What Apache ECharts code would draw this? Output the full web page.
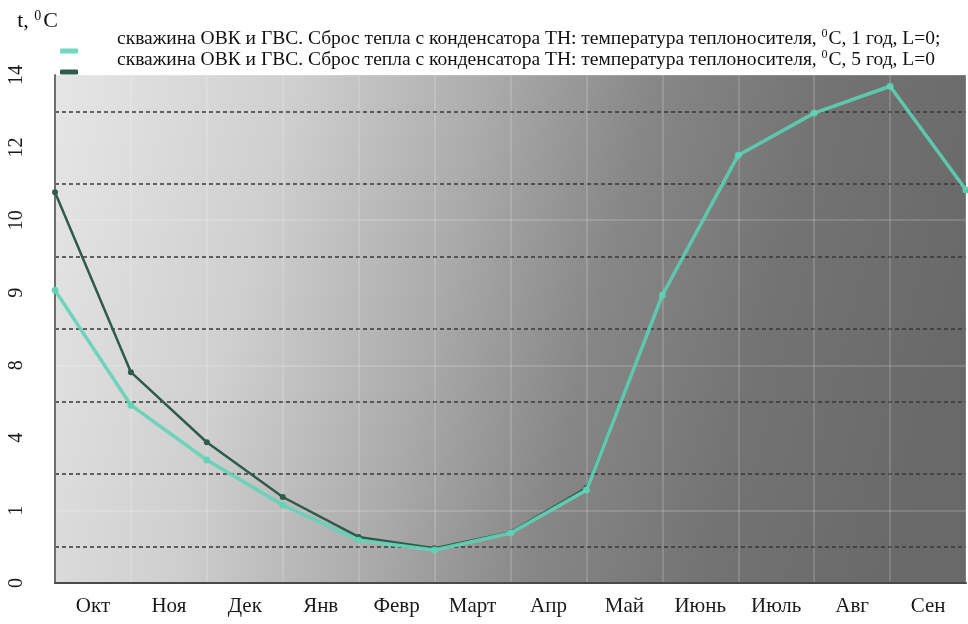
<!DOCTYPE html>
<html>
<head>
<meta charset="utf-8">
<script src="https://cdn.jsdelivr.net/npm/echarts@6/dist/echarts.min.js"></script>
<style>
  html, body { margin: 0; padding: 0; background: #ffffff; }
  #chart { width: 968px; height: 624px; }
</style>
</head>
<body>
<div id="chart"></div>
<script>
// Months of the heating season (labels sit between the monthly points)
const months = ['Окт', 'Ноя', 'Дек', 'Янв', 'Февр', 'Март', 'Апр', 'Май', 'Июнь', 'Июль', 'Авг', 'Сен'];
// Tick captions for y = 0, 2, 4, ... 14
const yTickLabels = ['0', '1', '4', '8', '9', '10', '12', '14'];
// Heat-carrier temperature at month boundaries, °C
const temp1yr = [8.07, 4.9, 3.39, 2.15, 1.18, 0.91, 1.38, 2.56, 7.93, 11.79, 12.95, 13.69, 10.83];
const temp5yr = [10.77, 5.81, 3.88, 2.37, 1.27, 0.96, 1.40, 2.62, 7.93, 11.79, 12.95, 13.69, 10.83];

const name1 = 'скважина ОВК и ГВС. Сброс тепла с конденсатора ТН: температура теплоносителя, {s|0}С, 1 год, L=0;';
const name5 = 'скважина ОВК и ГВС. Сброс тепла с конденсатора ТН: температура теплоносителя, {s|0}С, 5 год, L=0';

const serif = '"Liberation Serif", "Times New Roman", serif';

const chart = echarts.init(document.getElementById('chart'), null, { renderer: 'canvas' });

chart.setOption({
  animation: false,
  backgroundColor: '#ffffff',
  grid: {
    left: 55, right: 2, top: 75, bottom: 41,
    show: true,
    borderWidth: 0,
    backgroundColor: new echarts.graphic.LinearGradient(0, 0, 1, 0.45, [
      { offset: 0, color: '#e6e6e6' },
      { offset: 0.25, color: '#cfcfcf' },
      { offset: 0.45, color: '#ababab' },
      { offset: 0.62, color: '#878787' },
      { offset: 0.8, color: '#737373' },
      { offset: 1, color: '#696969' }
    ])
  },
  legend: {
    orient: 'vertical',
    left: 55, top: 23,
    icon: 'roundRect',
    itemWidth: 18, itemHeight: 5,
    itemGap: -25,
    data: [name1, name5],
    textStyle: {
      fontFamily: serif, fontSize: 19.5, color: '#111',
      padding: [0, 0, 24, 34],
      lineHeight: 22,
      rich: {
        s: { fontSize: 12, fontFamily: serif, color: '#111', verticalAlign: 'top', padding: [0, 1, 8, 0] }
      }
    }
  },
  xAxis: [
    {
      type: 'category',
      data: months,
      boundaryGap: true,
      position: 'bottom',
      axisLine: { show: true, lineStyle: { color: '#4a4a4a', width: 2 } },
      axisTick: { show: false },
      axisLabel: { fontFamily: serif, fontSize: 21, color: '#1a1a1a', margin: 13 },
      splitLine: { show: false }
    },
    {
      type: 'value',
      min: 0, max: 12, interval: 1,
      position: 'bottom',
      axisLine: { show: false },
      axisTick: { show: false },
      axisLabel: { show: false },
      splitLine: { show: true, lineStyle: { color: 'rgba(255,255,255,0.2)', width: 1.5 } }
    }
  ],
  yAxis: [
    {
      type: 'value',
      min: 0, max: 14, interval: 1,
      name: 't, {s|0}C',
      nameLocation: 'end',
      nameGap: 42,
      nameTextStyle: {
        fontFamily: serif, fontSize: 22, color: '#111', align: 'right', padding: [0, -3, 0, 0],
        rich: { s: { fontSize: 14, fontFamily: serif, color: '#111', verticalAlign: 'top', padding: [0, 2, 10, 0] } }
      },
      axisLine: { show: true, lineStyle: { color: '#6e6e6e', width: 2 } },
      axisTick: { show: false },
      axisLabel: {
        rotate: 90,
        fontFamily: serif, fontSize: 20, color: '#1a1a1a', margin: 28,
        formatter: v => (v % 2 === 0 ? yTickLabels[v / 2] : '')
      },
      splitLine: {
        show: true,
        lineStyle: { color: ['rgba(255,255,255,0)', 'rgba(255,255,255,0)', 'rgba(255,255,255,0.2)', 'rgba(255,255,255,0)'], width: 1.5 }
      }
    },
    {
      type: 'value',
      min: 0, max: 14, interval: 1,
      position: 'left',
      axisLine: { show: false },
      axisTick: { show: false },
      axisLabel: { show: false },
      splitLine: {
        show: true,
        lineStyle: { color: ['rgba(0,0,0,0)', '#383838'], type: [4, 3], width: 1.5 }
      }
    }
  ],
  series: [
    {
      name: name5,
      type: 'line',
      xAxisIndex: 1, yAxisIndex: 0,
      data: temp5yr.map((v, i) => [i, v]),
      symbol: 'circle', symbolSize: 6,
      lineStyle: { color: '#2f5b4c', width: 2.5 },
      itemStyle: { color: '#2f5b4c' },
      z: 3
    },
    {
      name: name1,
      type: 'line',
      xAxisIndex: 1, yAxisIndex: 0,
      data: temp1yr.map((v, i) => [i, v]),
      symbol: 'circle', symbolSize: 7,
      lineStyle: { color: '#62d4b6', width: 3.5, opacity: 0.9 },
      itemStyle: { color: '#62d4b6', opacity: 0.9 },
      z: 4
    }
  ]
});
</script>
</body>
</html>
